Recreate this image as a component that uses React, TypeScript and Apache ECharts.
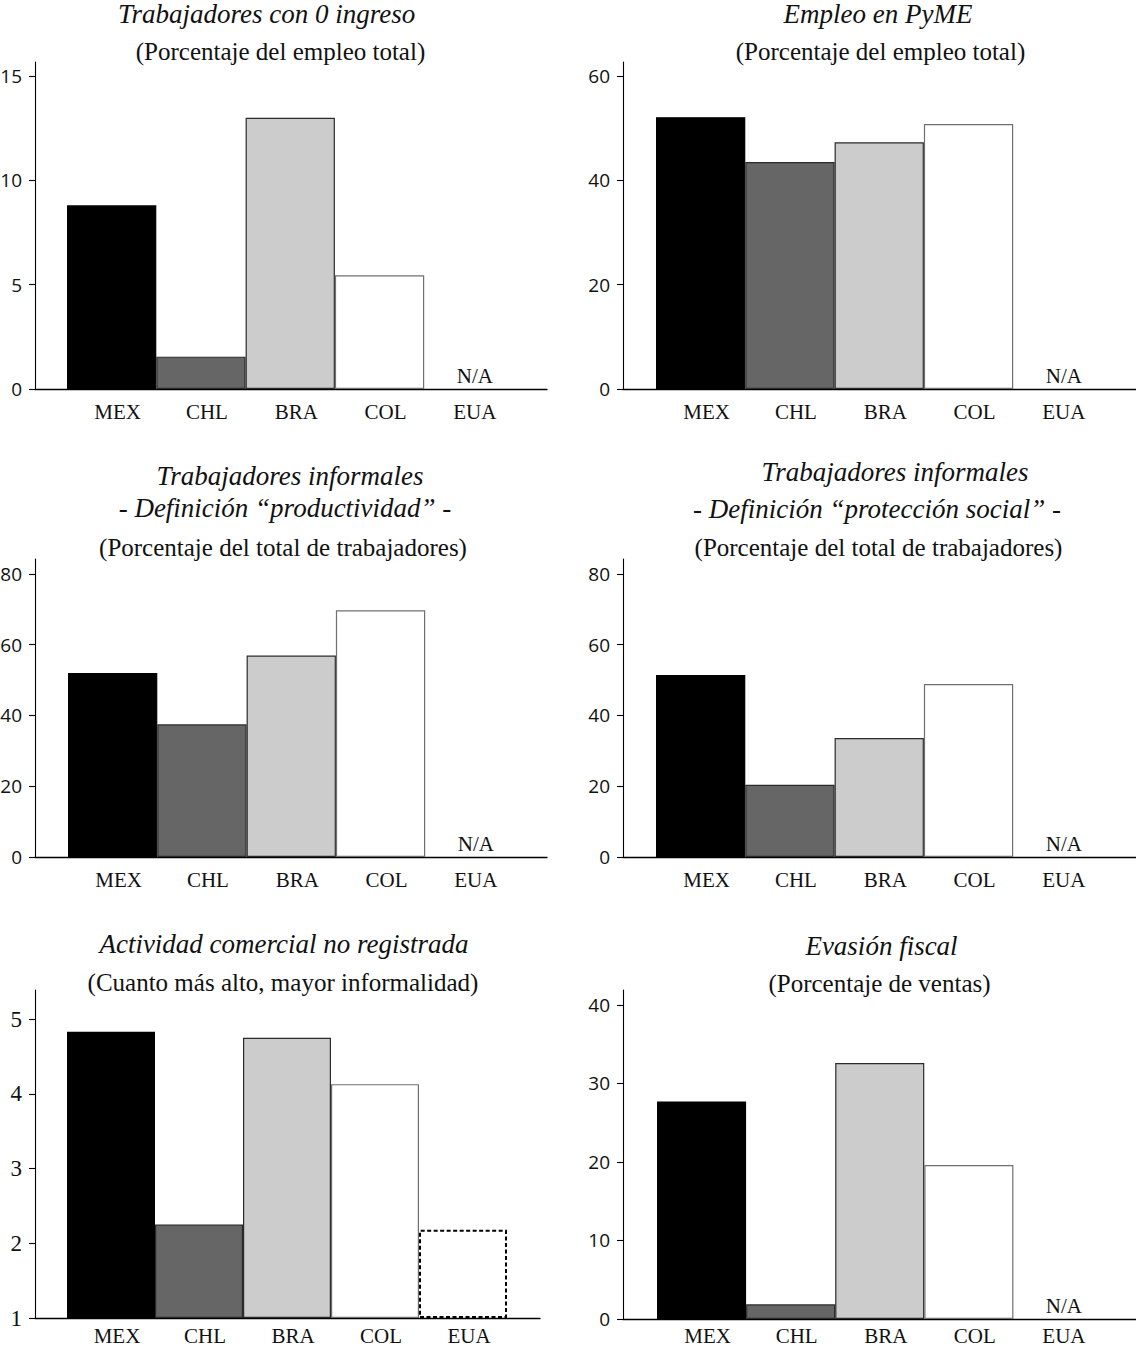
import React, { useEffect, useRef } from "react";
import * as echarts from "echarts";

// ---------- data ----------
const categories = ["MEX", "CHL", "BRA", "COL", "EUA"];

const zeroIncomeWorkers: (number | null)[] = [8.8, 1.55, 13.0, 5.45, null];
const smeEmployment: (number | null)[] = [52.1, 43.5, 47.3, 50.8, null];
const informalProductivity: (number | null)[] = [52.0, 37.5, 56.9, 69.7, null];
const informalSocialProtection: (number | null)[] = [51.4, 20.4, 33.6, 48.9, null];
const unregisteredActivity: (number | null)[] = [4.83, 2.25, 4.75, 4.13, 2.18];
const taxEvasion: (number | null)[] = [27.7, 1.87, 32.6, 19.6, null];

const ticksZeroIncome = [0, 5, 10, 15];
const ticksSme = [0, 20, 40, 60];
const ticksInformal = [0, 20, 40, 60, 80];
const ticksUnregistered = [1, 2, 3, 4, 5];
const ticksTax = [0, 10, 20, 30, 40];

const naLabel = "N/A";

// ---------- styles ----------
const barFill = ["#000000", "#666666", "#cccccc", "#ffffff", "#ffffff"];
const barBorder = ["#000000", "#2b2b2b", "#2b2b2b", "#707070", "#000000"];

type Title = { text: string; x: number; y: number; kind: "title" | "sub" };
type Panel = {
  values: (number | null)[];
  ticks: number[];
  min: number;
  max: number;
  axisX: number;
  axisEnd: number;
  top: number;
  bottom: number;
  barStart: number;
  barEnd: number;
  serifTicks: boolean;
  labelMargin: number;
  titles: Title[];
};

const panels: Panel[] = [
  {
    values: zeroIncomeWorkers, ticks: ticksZeroIncome, min: 0, max: 15.67,
    axisX: 35, axisEnd: 547, top: 62, bottom: 389, barStart: 67, barEnd: 513.5, serifTicks: false, labelMargin: 12,
    titles: [
      { text: "Trabajadores con 0 ingreso", x: 266.5, y: 13.5, kind: "title" },
      { text: "(Porcentaje del empleo total)", x: 280.5, y: 51, kind: "sub" },
    ],
  },
  {
    values: smeEmployment, ticks: ticksSme, min: 0, max: 62.68,
    axisX: 623, axisEnd: 1136, top: 62, bottom: 389, barStart: 656, barEnd: 1102.5, serifTicks: false, labelMargin: 12,
    titles: [
      { text: "Empleo en PyME", x: 878, y: 13.5, kind: "title" },
      { text: "(Porcentaje del empleo total)", x: 880.5, y: 51, kind: "sub" },
    ],
  },
  {
    values: informalProductivity, ticks: ticksInformal, min: 0, max: 84.2,
    axisX: 35, axisEnd: 547, top: 559, bottom: 857, barStart: 68, barEnd: 514.5, serifTicks: false, labelMargin: 12,
    titles: [
      { text: "Trabajadores informales", x: 290, y: 476, kind: "title" },
      { text: "- Definición “productividad” -", x: 285, y: 507.5, kind: "title" },
      { text: "(Porcentaje del total de trabajadores)", x: 283, y: 547.5, kind: "sub" },
    ],
  },
  {
    values: informalSocialProtection, ticks: ticksInformal, min: 0, max: 84.2,
    axisX: 623, axisEnd: 1136, top: 559, bottom: 857, barStart: 656, barEnd: 1102.5, serifTicks: false, labelMargin: 12,
    titles: [
      { text: "Trabajadores informales", x: 895, y: 472, kind: "title" },
      { text: "- Definición “protección social” -", x: 877, y: 509, kind: "title" },
      { text: "(Porcentaje del total de trabajadores)", x: 878.5, y: 547.5, kind: "sub" },
    ],
  },
  {
    values: unregisteredActivity, ticks: ticksUnregistered, min: 1, max: 5.39,
    axisX: 35, axisEnd: 540, top: 990, bottom: 1318, barStart: 67, barEnd: 507, serifTicks: true, labelMargin: 7,
    titles: [
      { text: "Actividad comercial no registrada", x: 284, y: 944, kind: "title" },
      { text: "(Cuanto más alto, mayor informalidad)", x: 283, y: 982.5, kind: "sub" },
    ],
  },
  {
    values: taxEvasion, ticks: ticksTax, min: 0, max: 41.9,
    axisX: 623, axisEnd: 1136, top: 990, bottom: 1319, barStart: 657, barEnd: 1102.5, serifTicks: false, labelMargin: 6,
    titles: [
      { text: "Evasión fiscal", x: 881.5, y: 946, kind: "title" },
      { text: "(Porcentaje de ventas)", x: 879.5, y: 983, kind: "sub" },
    ],
  },
];

function buildOption() {
  const grid: any[] = [];
  const xAxis: any[] = [];
  const yAxis: any[] = [];
  const series: any[] = [];
  const graphic: any[] = [];
  const axisLineStyle = { color: "#000", width: 1.3 };

  panels.forEach((p, i) => {
    const fi = i * 2;
    const di = i * 2 + 1;
    const h = p.bottom - p.top;
    grid.push({ left: p.axisX, top: p.top, width: p.axisEnd - p.axisX, height: h, outerBoundsMode: "none", containLabel: false });
    grid.push({ left: p.barStart, top: p.top, width: p.barEnd - p.barStart, height: h, outerBoundsMode: "none", containLabel: false });

    // frame axes
    xAxis.push({
      gridIndex: fi, type: "value", min: 0, max: 1,
      axisLine: { show: true, onZero: false, lineStyle: axisLineStyle },
      axisTick: { show: false }, axisLabel: { show: false }, splitLine: { show: false },
    });
    yAxis.push({
      gridIndex: fi, type: "value", min: p.min, max: p.max,
      axisLine: { show: true, onZero: false, lineStyle: { color: "#000", width: 1.1 } },
      axisTick: { show: true, inside: false, length: 6, customValues: p.ticks, lineStyle: { color: "#000", width: 1.1 } },
      axisLabel: {
        customValues: p.ticks, margin: 13, color: "#111",
        fontFamily: p.serifTicks ? "Liberation Serif" : "Open Sans",
        fontSize: p.serifTicks ? 23 : 19,
      },
      splitLine: { show: false },
    });

    // data axes
    xAxis.push({
      gridIndex: di, type: "category", data: categories,
      axisLine: { show: false }, axisTick: { show: false }, splitLine: { show: false },
      axisLabel: {
        interval: 0, margin: p.labelMargin, padding: [0, 0, 0, 12], color: "#111",
        fontFamily: "Liberation Serif", fontSize: 21, lineHeight: 22,
      },
    });
    yAxis.push({
      gridIndex: di, type: "value", min: p.min, max: p.max, startValue: p.min, show: false,
      splitLine: { show: false },
    });

    series.push({
      type: "bar", xAxisIndex: di, yAxisIndex: di, barCategoryGap: "0%", clip: true, z: 1,
      data: p.values.map((v, k) => {
        if (v == null) {
          return {
            value: p.min,
            itemStyle: { color: "rgba(0,0,0,0)", borderWidth: 0 },
            label: {
              show: true, position: "top", distance: 3, formatter: naLabel,
              fontFamily: "Liberation Serif", fontSize: 21, color: "#111", padding: [0, 0, 0, 12],
            },
          };
        }
        const dashed = k === 4;
        return {
          value: v,
          itemStyle: {
            color: barFill[k],
            borderColor: barBorder[k],
            borderWidth: dashed ? 2 : 1.2,
            borderType: dashed ? [4, 2.5] : "solid",
          },
        };
      }),
    });

    p.titles.forEach((t) => {
      graphic.push({
        type: "text", x: t.x, y: t.y, silent: true,
        style: {
          text: t.text,
          font: t.kind === "title" ? "italic 27px 'Liberation Serif'" : "25px 'Liberation Serif'",
          fill: "#111",
          textAlign: "center",
          textVerticalAlign: "middle",
        },
      });
    });
  });

  return { animation: false, backgroundColor: "#ffffff", grid, xAxis, yAxis, series, graphic };
}

export default function App() {
  const ref = useRef<HTMLDivElement>(null);
  useEffect(() => {
    document.body.style.margin = "0";
    if (!ref.current) return;
    const chart = echarts.init(ref.current, null, { renderer: "svg" });
    chart.setOption(buildOption() as any);
    return () => chart.dispose();
  }, []);
  return <div ref={ref} style={{ width: 1136, height: 1349 }} />;
}
